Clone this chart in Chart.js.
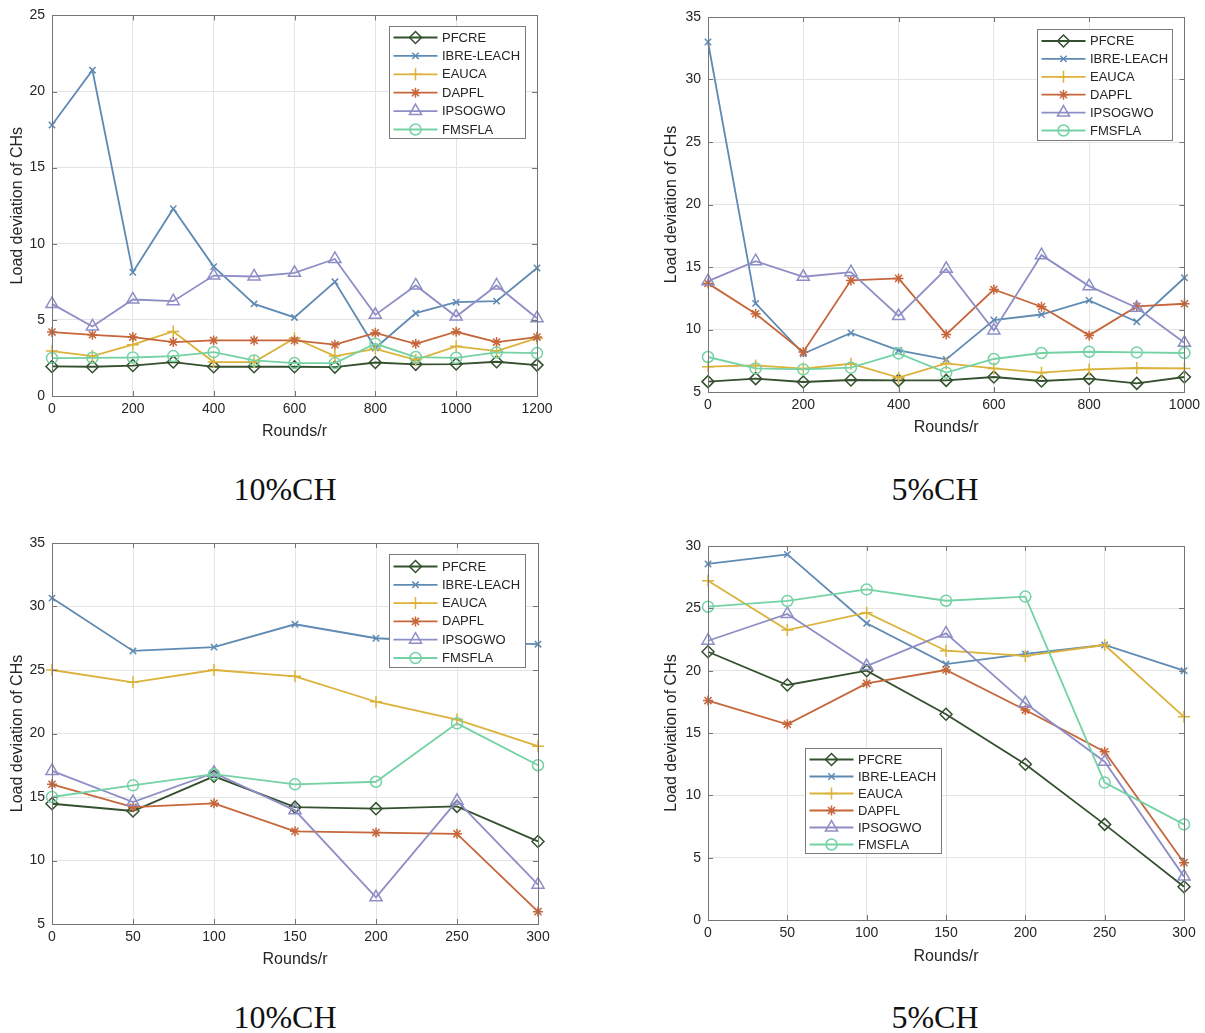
<!DOCTYPE html>
<html><head><meta charset="utf-8">
<script src="https://cdn.jsdelivr.net/npm/chart.js@4.4.1/dist/chart.umd.min.js"></script>
<style>
html,body{margin:0;padding:0;background:#fff}
body{width:1205px;height:1033px;position:relative;overflow:hidden}
canvas{position:absolute}
.cap{position:absolute;font-family:"Liberation Serif","DejaVu Serif",serif;font-size:32px;color:#111;transform:translate(-50%,-50%);white-space:nowrap}
</style></head><body>
<canvas id="c1" width="560" height="450" style="left:0;top:0"></canvas>
<canvas id="c2" width="605" height="450" style="left:600px;top:0"></canvas>
<canvas id="c3" width="560" height="460" style="left:0;top:520px"></canvas>
<canvas id="c4" width="605" height="460" style="left:600px;top:520px"></canvas>
<div class="cap" style="left:285px;top:489px">10%CH</div>
<div class="cap" style="left:935px;top:489px">5%CH</div>
<div class="cap" style="left:285px;top:1017px">10%CH</div>
<div class="cap" style="left:935px;top:1017px">5%CH</div>
<script>
// ---------- data ----------
const seriesNames = ['PFCRE','IBRE-LEACH','EAUCA','DAPFL','IPSOGWO','FMSFLA'];
const xTitle = 'Rounds/r';
const yTitle = 'Load deviation of CHs';

// Panel 1 (top-left, 10%CH)
const rounds1 = [0,100,200,300,400,500,600,700,800,900,1000,1100,1200];
const p1_PFCRE   = [1.94,1.92,2.0,2.23,1.92,1.92,1.92,1.9,2.2,2.08,2.1,2.25,2.03];
const p1_IBRE    = [17.8,21.4,8.13,12.3,8.5,6.05,5.16,7.5,3.15,5.44,6.16,6.23,8.41];
const p1_EAUCA   = [2.95,2.62,3.37,4.24,2.23,2.23,3.8,2.62,3.1,2.38,3.26,2.95,3.8];
const p1_DAPFL   = [4.2,4.02,3.87,3.54,3.65,3.65,3.65,3.37,4.15,3.43,4.22,3.54,3.87];
const p1_IPSOGWO = [6.05,4.57,6.34,6.23,7.91,7.85,8.09,9.0,5.33,7.26,5.22,7.26,5.11];
const p1_FMSFLA  = [2.49,2.51,2.53,2.62,2.88,2.34,2.16,2.16,3.43,2.56,2.51,2.86,2.82];

// Panel 2 (top-right, 5%CH)
const rounds2 = [0,100,200,300,400,500,600,700,800,900,1000];
const p2_PFCRE   = [5.83,6.07,5.8,5.96,5.93,5.93,6.2,5.88,6.07,5.69,6.2];
const p2_IBRE    = [33.0,12.09,8.06,9.72,8.33,7.61,10.76,11.2,12.33,10.62,14.14];
const p2_EAUCA   = [7.03,7.13,6.87,7.26,6.15,7.29,6.89,6.55,6.81,6.92,6.89];
const p2_DAPFL   = [13.69,11.26,8.2,13.93,14.09,9.61,13.2,11.82,9.53,11.85,12.06];
const p2_IPSOGWO = [13.87,15.47,14.22,14.59,11.08,14.86,9.93,15.95,13.47,11.74,8.94];
const p2_FMSFLA  = [7.8,6.89,6.81,6.95,8.09,6.55,7.64,8.12,8.22,8.17,8.12];

// Panel 3 (bottom-left, 10%CH)
const rounds3 = [0,50,100,150,200,250,300];
const p3_PFCRE   = [14.47,13.9,16.63,14.2,14.08,14.26,11.5];
const p3_IBRE    = [30.66,26.5,26.8,28.6,27.5,27.2,27.03];
const p3_EAUCA   = [25.0,24.03,25.0,24.5,22.5,21.1,19.0];
const p3_DAPFL   = [16.0,14.2,14.5,12.3,12.2,12.1,5.97];
const p3_IPSOGWO = [17.05,14.6,16.9,13.95,7.1,14.7,8.1];
const p3_FMSFLA  = [15.0,15.92,16.8,16.0,16.2,20.8,17.5];

// Panel 4 (bottom-right, 5%CH)
const rounds4 = [0,50,100,150,200,250,300];
const p4_PFCRE   = [21.52,18.85,20.0,16.5,12.49,7.67,2.67];
const p4_IBRE    = [28.56,29.33,23.8,20.53,21.34,22.06,20.0];
const p4_EAUCA   = [27.22,23.26,24.65,21.6,21.18,22.06,16.3];
const p4_DAPFL   = [17.6,15.7,18.98,20.05,16.84,13.5,4.6];
const p4_IPSOGWO = [22.4,24.55,20.37,22.99,17.38,12.7,3.48];
const p4_FMSFLA  = [25.13,25.59,26.52,25.61,25.94,11.02,7.67];

// ---------- styles ----------
const colors = ['#34502f','#5f8ab3','#dbb23a','#c6663a','#8e8ec6','#74d2a4'];
const pStyles = ['rectRot','crossRot','cross','star','triangle','circle'];
const pRadii = [6,4.5,6,5,7,5.5];
const FONT = '"Liberation Sans", Arial, sans-serif';
const TXT = '#262626';
const GRID = '#e4e4e4';
const FRAME = '#747474';

function drawMarker(ctx, style, r, x, y, color) {
  const opts = {pointStyle: style, radius: r, borderWidth: 1.5, rotation: 0};
  ctx.save();
  ctx.strokeStyle = color; ctx.fillStyle = 'rgba(0,0,0,0)'; ctx.lineWidth = 1.5;
  Chart.helpers.drawPoint(ctx, opts, x, y);
  ctx.restore();
}

const framePlugin = {
  id: 'frameBox',
  afterDatasetsDraw(chart) {
    const {ctx, chartArea: a, scales} = chart;
    ctx.save();
    ctx.strokeStyle = FRAME; ctx.lineWidth = 1;
    ctx.strokeRect(Math.round(a.left)+0.5, Math.round(a.top)+0.5, Math.round(a.right-a.left), Math.round(a.bottom-a.top));
    const tl = 5;
    ctx.beginPath();
    scales.x.ticks.forEach(t => {
      const px = Math.round(scales.x.getPixelForValue(t.value)) + 0.5;
      ctx.moveTo(px, a.bottom); ctx.lineTo(px, a.bottom - tl);
      ctx.moveTo(px, a.top); ctx.lineTo(px, a.top + tl);
    });
    scales.y.ticks.forEach(t => {
      const py = Math.round(scales.y.getPixelForValue(t.value)) + 0.5;
      ctx.moveTo(a.left, py); ctx.lineTo(a.left + tl, py);
      ctx.moveTo(a.right, py); ctx.lineTo(a.right - tl, py);
    });
    ctx.stroke();
    ctx.restore();
  }
};

const legendPlugin = {
  id: 'boxLegend',
  afterDraw(chart, args, o) {
    const {ctx, chartArea: a} = chart;
    const bx = Math.round(a.left + o.x) + 0.5, by = Math.round(a.top + o.y) + 0.5;
    ctx.save();
    ctx.fillStyle = '#fff';
    ctx.fillRect(bx, by, o.w, o.h);
    ctx.strokeStyle = '#7c7c7c'; ctx.lineWidth = 1;
    ctx.strokeRect(bx, by, o.w, o.h);
    ctx.font = '13px ' + FONT;
    ctx.textBaseline = 'middle';
    chart.data.datasets.forEach((d, i) => {
      const y = by + o.first + i * o.row;
      ctx.strokeStyle = d.borderColor; ctx.lineWidth = 1.8;
      ctx.beginPath(); ctx.moveTo(bx + 4, y); ctx.lineTo(bx + 48, y); ctx.stroke();
      drawMarker(ctx, d.pointStyle, d.pointRadius, bx + 26, y, d.borderColor);
      ctx.fillStyle = TXT;
      ctx.fillText(d.label, bx + 52.5, y + 0.5);
    });
    ctx.restore();
  }
};

function makeChart(id, xs, series, ax) {
  const datasets = seriesNames.map((n, i) => ({
    label: n,
    data: xs.map((x, j) => ({x: x, y: series[i][j]})),
    borderColor: colors[i],
    backgroundColor: 'rgba(0,0,0,0)',
    pointBackgroundColor: 'rgba(0,0,0,0)',
    pointBorderColor: colors[i],
    pointStyle: pStyles[i],
    pointRadius: pRadii[i],
    pointBorderWidth: 1.5,
    borderWidth: 1.8,
    tension: 0,
    clip: false,
    order: 5 - i
  }));
  const tickFont = {family: FONT, size: 14};
  const titleFont = {family: FONT, size: 16};
  const plain = v => String(v);
  return new Chart(document.getElementById(id), {
    type: 'line',
    data: {datasets},
    options: {
      responsive: false, animation: false, devicePixelRatio: 1,
      layout: {padding: {left: 0, top: ax.padTop, right: ax.padRight, bottom: 0}},
      plugins: {legend: {display: false}, tooltip: {enabled: false}, boxLegend: ax.legend},
      scales: {
        x: {
          type: 'linear', min: ax.xmin, max: ax.xmax,
          ticks: {stepSize: ax.xstep, font: tickFont, color: TXT, padding: 5, maxRotation: 0, autoSkip: false, callback: plain},
          grid: {color: GRID, drawTicks: false, lineWidth: 1},
          border: {display: false},
          title: {display: true, text: xTitle, font: titleFont, color: TXT, padding: {top: 0, bottom: ax.xtp}},
          afterFit: s => { s.height = ax.xh; }
        },
        y: {
          type: 'linear', min: ax.ymin, max: ax.ymax,
          ticks: {stepSize: 5, font: tickFont, color: TXT, padding: 7, callback: plain},
          grid: {color: GRID, drawTicks: false, lineWidth: 1},
          border: {display: false},
          title: {display: true, text: yTitle, font: titleFont, color: TXT, padding: {top: ax.ytp, bottom: 0}},
          afterFit: s => { s.width = ax.yw; }
        }
      }
    },
    plugins: [framePlugin, legendPlugin]
  });
}

makeChart('c1', rounds1, [p1_PFCRE,p1_IBRE,p1_EAUCA,p1_DAPFL,p1_IPSOGWO,p1_FMSFLA],
  {xmin:0,xmax:1200,xstep:200,ymin:0,ymax:25,padTop:15,padRight:23,yw:52,xh:54,xtp:8.4,ytp:8.4,
   legend:{x:337,y:11,w:136,h:112,first:11,row:18.4}});
makeChart('c2', rounds2, [p2_PFCRE,p2_IBRE,p2_EAUCA,p2_DAPFL,p2_IPSOGWO,p2_FMSFLA],
  {xmin:0,xmax:1000,xstep:200,ymin:5,ymax:35,padTop:17,padRight:20,yw:108,xh:58,xtp:12.4,ytp:62.4,
   legend:{x:329,y:12,w:135,h:111,first:11.5,row:17.9}});
makeChart('c3', rounds3, [p3_PFCRE,p3_IBRE,p3_EAUCA,p3_DAPFL,p3_IPSOGWO,p3_FMSFLA],
  {xmin:0,xmax:300,xstep:50,ymin:5,ymax:35,padTop:23,padRight:22,yw:52,xh:56,xtp:10.4,ytp:8.4,
   legend:{x:337,y:11,w:136,h:113,first:12,row:18.3}});
makeChart('c4', rounds4, [p4_PFCRE,p4_IBRE,p4_EAUCA,p4_DAPFL,p4_IPSOGWO,p4_FMSFLA],
  {xmin:0,xmax:300,xstep:50,ymin:0,ymax:30,padTop:26,padRight:21,yw:108,xh:60,xtp:13.4,ytp:62.4,
   legend:{x:97,y:202,w:136,h:105,first:11,row:17}});
</script>
</body></html>
